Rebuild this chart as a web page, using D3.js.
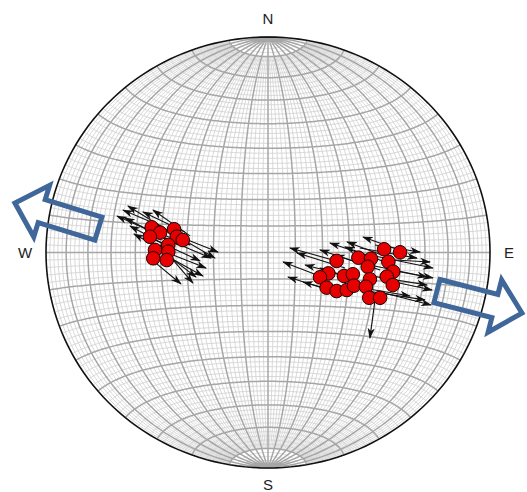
<!DOCTYPE html>
<html>
<head>
<meta charset="utf-8">
<script src="https://cdn.jsdelivr.net/npm/d3@7"></script>
<style>
  html, body { margin: 0; padding: 0; background: #fff; }
  svg { display: block; }
</style>
</head>
<body>
<svg id="net" width="527" height="492"></svg>
<script>
// Poles in net coordinates: percent of the net radius, x toward E, y toward N
const polesWest = [
  [-52.4, 11.7], [-48.6, 9.2], [-42.3, 10.8], [-41.1, 7.3], [-38.4, 5.8],
  [-53.2, 7.3], [-44.9, 3.5], [-50.9, 1.2], [-44.9, 0.4], [-51.7, -2.7],
  [-45.6, -3.5]
];
const polesEast = [
  [52.3, 1.5], [59.5, 0.1], [40.7, -2.4], [30.9, -3.9], [46.4, -2.9],
  [54.2, -4.3], [44.9, -6.6], [56.4, -8.9], [27.2, -9.7], [23.4, -11.5],
  [34.2, -10.9], [38.2, -10.1], [53.5, -11.2], [45.9, -12.4], [26.4, -16.3],
  [30.9, -17.9], [35.5, -17.4], [38.7, -15.4], [44.1, -15.9], [56.2, -15.1],
  [45.6, -21.0], [50.5, -21.0]
];
// Slip vectors: [tailX, tailY, headX, headY] in the same net coordinates
const slipWest = [
  [-39.6, 6.7, -63.1, 21.6], [-44.1, 5.8, -68.0, 16.9], [-37.4, 9.5, -56.3, 18.8],
  [-35.1, 7.7, -51.8, 19.7], [-41.9, 1.2, -62.2, 12.3], [-43.2, -1.2, -60.4, 8.6],
  [-46.4, 11.4, -65.3, 19.7], [-40.5, 3.5, -64.4, 16.0],
  [-53.2, 12.8, -22.5, 0.2], [-53.2, 9.5, -25.7, -2.6], [-50.9, 5.8, -30.6, -3.9],
  [-48.6, 1.2, -27.9, -7.2], [-49.5, 2.1, -32.4, -11.4], [-53.2, -2.6, -39.2, -14.6],
  [-46.4, -1.2, -29.3, -10.9], [-55.4, 11.4, -35.1, 3.5], [-44.1, 9.5, -23.9, -2.6],
  [-48.6, 3.5, -33.8, -14.2]
];
const slipEast = [
  [61.7, 0.2, 42.8, 7.2], [55.0, -2.6, 35.6, 4.9], [43.7, -5.8, 23.4, 1.2],
  [34.7, -7.2, 13.1, -0.2], [27.9, -12.8, 6.8, -4.4], [30.2, -18.3, 9.0, -11.4],
  [36.9, -19.7, 15.8, -13.7], [41.4, -13.7, 23.4, -7.2], [50.5, -8.1, 30.2, -1.2],
  [32.4, -4.4, 9.9, 2.1], [48.2, -2.6, 27.9, 4.4], [39.2, -11.8, 16.7, -5.8],
  [52.7, -4.4, 34.7, 2.6],
  [45.9, -1.2, 74.3, -7.2], [43.7, -10.4, 71.6, -15.1], [41.4, -17.4, 70.7, -22.0],
  [41.4, 2.1, 67.1, -2.6], [45.9, -5.8, 71.6, -11.4], [34.7, -15.1, 64.0, -20.2],
  [50.5, -18.3, 73.4, -24.4], [57.2, -3.5, 73.0, -4.4], [52.7, -12.8, 73.9, -17.4],
  [48.2, 3.5, 68.5, 0.2], [55.0, -8.1, 74.3, -11.8],
  [48.2, -22.0, 45.9, -39.7]
];
// Regional extension directions: [tailX, tailY, tipX, tipY]
const extension = [
  [-76.4, 11.1, -114.0, 23.0],
  [76.1, -17.9, 114.4, -28.1]
];
const compass = [
  { label: "N", x: 0, y: 100 },
  { label: "E", x: 100, y: 0 },
  { label: "S", x: 0, y: -100 },
  { label: "W", x: -100, y: 0 }
];

const width = 527, height = 492;
const cx = 268, cy = 252.5, rx = 222, ry = 215.5;

const svg = d3.select("#net");
svg.append("rect").attr("width", width).attr("height", height).attr("fill", "#fff");

// Schmidt (equal-area) net, equatorial aspect, slightly wider than tall
const kx = rx / ry;
const projection = d3.geoProjection((l, p) => {
  const q = d3.geoAzimuthalEqualAreaRaw(l, p);
  return [q[0] * kx, q[1]];
})
  .scale(ry / Math.SQRT2)
  .translate([cx, cy])
  .clipAngle(90)
  .precision(0.2);
const path = d3.geoPath(projection);

const x = d3.scaleLinear().domain([-100, 100]).range([cx - rx, cx + rx]);
const y = d3.scaleLinear().domain([-100, 100]).range([cy + ry, cy - ry]);

function meridians(step, latMax, skip) {
  const lines = [];
  for (const lon of d3.range(-90, 90.01, step)) {
    if (skip && lon % skip === 0) continue;
    lines.push(d3.range(-latMax, latMax + 0.01, 1).map(lat => [lon, lat]));
  }
  return { type: "MultiLineString", coordinates: lines };
}
function parallels(step, latMax, skip) {
  const lines = [];
  for (const lat of d3.range(-latMax, latMax + 0.01, step)) {
    if (skip && lat % skip === 0) continue;
    lines.push(d3.range(-90, 90.01, 1).map(lon => [lon, lat]));
  }
  return { type: "MultiLineString", coordinates: lines };
}

const grid = svg.append("g").attr("fill", "none");
grid.append("path").datum(meridians(2, 80, 10)).attr("d", path)
  .attr("stroke", "#d4d4d4").attr("stroke-width", 0.9);
grid.append("path").datum(parallels(2, 88, 10)).attr("d", path)
  .attr("stroke", "#d4d4d4").attr("stroke-width", 0.9);
grid.append("path").datum(meridians(10, 90)).attr("d", path)
  .attr("stroke", "#a6a6a6").attr("stroke-width", 1.5);
grid.append("path").datum(parallels(10, 80)).attr("d", path)
  .attr("stroke", "#a6a6a6").attr("stroke-width", 1.5);
grid.append("path").datum({ type: "Sphere" }).attr("d", path)
  .attr("stroke", "#111").attr("stroke-width", 1.6);

// Compass letters
svg.append("g")
  .attr("font-family", "'Liberation Sans', Arial, sans-serif")
  .attr("font-size", 15).attr("fill", "#222")
  .attr("text-anchor", "middle").attr("dominant-baseline", "central")
  .selectAll("text").data(compass).join("text")
  .attr("x", d => x(d.x) + (d.x > 0 ? 19 : d.x < 0 ? -21 : 0))
  .attr("y", d => y(d.y) + (d.y > 0 ? -19 : d.y < 0 ? 16 : 0))
  .text(d => d.label);

// Slip vectors
const defs = svg.append("defs");
defs.append("marker").attr("id", "head")
  .attr("viewBox", "0 -4 11 8").attr("refX", 10).attr("refY", 0)
  .attr("markerUnits", "userSpaceOnUse")
  .attr("markerWidth", 11).attr("markerHeight", 8)
  .attr("orient", "auto")
  .append("path").attr("d", "M0,-3.6L11,0L0,3.6L3,0Z").attr("fill", "#111");

svg.append("g").attr("stroke", "#111").attr("stroke-width", 1.1)
  .selectAll("line").data(slipWest.concat(slipEast)).join("line")
  .attr("x1", d => x(d[0])).attr("y1", d => y(d[1]))
  .attr("x2", d => x(d[2])).attr("y2", d => y(d[3]))
  .attr("marker-end", "url(#head)");

// Poles
svg.append("g").attr("fill", "#e60000").attr("stroke", "#1a0000").attr("stroke-width", 1)
  .selectAll("circle").data(polesWest.concat(polesEast)).join("circle")
  .attr("cx", d => x(d[0])).attr("cy", d => y(d[1])).attr("r", 6.8);

// Hollow block arrows for the extension direction
function blockArrow(d) {
  const x0 = x(d[0]), y0 = y(d[1]), x1 = x(d[2]), y1 = y(d[3]);
  const len = Math.hypot(x1 - x0, y1 - y0);
  const ux = (x1 - x0) / len, uy = (y1 - y0) / len;
  const nx = -uy, ny = ux;
  const shaft = 12, headW = 27, headL = 28;
  const pt = (s, t) => [x0 + ux * s + nx * t, y0 + uy * s + ny * t];
  const pts = [
    pt(0, -shaft), pt(len - headL, -shaft), pt(len - headL, -headW), pt(len, 0),
    pt(len - headL, headW), pt(len - headL, shaft), pt(0, shaft)
  ];
  return "M" + pts.map(p => p.join(",")).join("L") + "Z";
}
svg.append("g").attr("fill", "none").attr("stroke", "#40679a")
  .attr("stroke-width", 5).attr("stroke-linejoin", "miter")
  .selectAll("path").data(extension).join("path")
  .attr("d", blockArrow);
</script>
</body>
</html>
